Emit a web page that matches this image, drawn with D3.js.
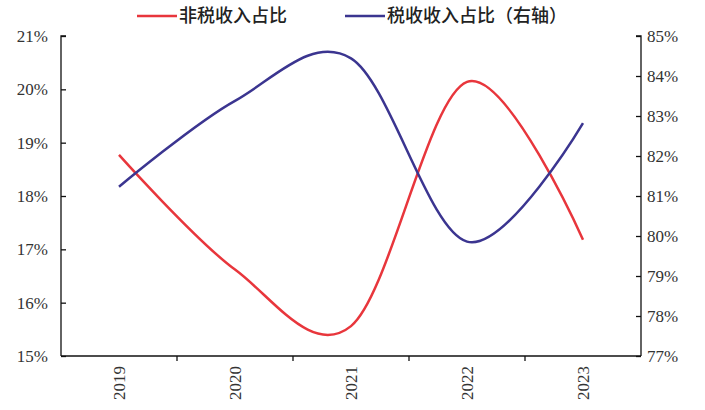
<!DOCTYPE html>
<html>
<head>
<meta charset="utf-8">
<script src="https://cdn.jsdelivr.net/npm/d3@7"></script>
<style>
  html, body { margin: 0; padding: 0; background: #fff; }
  svg { display: block; }
</style>
</head>
<body>
<svg id="chart" width="705" height="410"></svg>
<script>
// Revenue structure by year
const years = ["2019", "2020", "2021", "2022", "2023"];
const nonTaxShare = [18.77, 16.62, 15.56, 20.14, 17.18];   // left axis, %
const taxShare = [81.23, 83.38, 84.44, 79.86, 82.82];      // right axis, %
const leftTicks = [15, 16, 17, 18, 19, 20, 21];
const rightTicks = [77, 78, 79, 80, 81, 82, 83, 84, 85];
const seriesNames = ["非税收入占比", "税收收入占比（右轴）"];

const svg = d3.select("#chart");
const m = { left: 61, right: 641, top: 36, bottom: 356 };
const red = "#e8363c", blue = "#3b3590";
const serif = "'Liberation Serif', 'Times New Roman', serif";

const x = d3.scaleBand().domain(years).range([m.left, m.right]).paddingInner(0).paddingOuter(0);
const yL = d3.scaleLinear().domain([15, 21]).range([m.bottom, m.top]);
const yR = d3.scaleLinear().domain([77, 85]).range([m.bottom, m.top]);

// Left axis (ticks inward)
const gL = svg.append("g").attr("transform", `translate(${m.left},0)`)
  .call(d3.axisRight(yL).tickValues(leftTicks).tickSize(5).tickFormat(""));
gL.selectAll("line, path").attr("stroke", "#111").attr("stroke-width", 1.3);
gL.select(".domain").attr("d", `M5,${m.top}H0V${m.bottom}`);
svg.append("g").selectAll("text").data(leftTicks).join("text")
  .attr("x", 48).attr("y", d => yL(d)).attr("dy", "0.35em")
  .attr("text-anchor", "end").attr("font-family", serif).attr("font-size", 17)
  .attr("fill", "#333").text(d => d + "%");

// Right axis (ticks inward)
const gR = svg.append("g").attr("transform", `translate(${m.right},0)`)
  .call(d3.axisLeft(yR).tickValues(rightTicks).tickSize(5).tickFormat(""));
gR.selectAll("line, path").attr("stroke", "#111").attr("stroke-width", 1.3);
gR.select(".domain").attr("d", `M-5,${m.top}H0V${m.bottom}`);
svg.append("g").selectAll("text").data(rightTicks).join("text")
  .attr("x", 647).attr("y", d => yR(d)).attr("dy", "0.35em")
  .attr("text-anchor", "start").attr("font-family", serif).attr("font-size", 17)
  .attr("fill", "#333").text(d => d + "%");

// Bottom axis: ticks at category boundaries
const boundaries = years.slice(1).map(d => x(d));
const gB = svg.append("g");
gB.append("line").attr("x1", m.left).attr("x2", m.right)
  .attr("y1", m.bottom).attr("y2", m.bottom).attr("stroke", "#111").attr("stroke-width", 1.3);
gB.selectAll("line.tick").data(boundaries).join("line").attr("class", "tick")
  .attr("x1", d => d).attr("x2", d => d).attr("y1", m.bottom).attr("y2", m.bottom + 5)
  .attr("stroke", "#111").attr("stroke-width", 1.3);
gB.selectAll("text").data(years).join("text")
  .attr("transform", d => `translate(${x(d) + x.bandwidth() / 2 + 6},${m.bottom + 10}) rotate(-90)`)
  .attr("text-anchor", "end").attr("font-family", serif).attr("font-size", 17)
  .attr("fill", "#333").text(d => d);

// Smoothed lines
const cx = d => x(d) + x.bandwidth() / 2;
const lineL = d3.line().x((d, i) => cx(years[i])).y(d => yL(d)).curve(d3.curveCardinal.tension(0));
const lineR = d3.line().x((d, i) => cx(years[i])).y(d => yR(d)).curve(d3.curveCardinal.tension(0));
svg.append("path").attr("d", lineL(nonTaxShare)).attr("fill", "none")
  .attr("stroke", red).attr("stroke-width", 2.5);
svg.append("path").attr("d", lineR(taxShare)).attr("fill", "none")
  .attr("stroke", blue).attr("stroke-width", 2.5);

// Legend
const legend = [
  { name: seriesNames[0], color: red, x: 137 },
  { name: seriesNames[1], color: blue, x: 345 }
];
const lg = svg.append("g").selectAll("g").data(legend).join("g")
  .attr("transform", d => `translate(${d.x},16)`);
lg.append("line").attr("x1", 0).attr("x2", 40).attr("stroke", d => d.color).attr("stroke-width", 2.5);
lg.append("text").attr("x", 42).attr("dy", "0.36em")
  .attr("font-family", "'Noto Sans CJK SC', sans-serif").attr("font-size", 18)
  .attr("font-weight", 500).attr("fill", "#222").text(d => d.name);
</script>
</body>
</html>
